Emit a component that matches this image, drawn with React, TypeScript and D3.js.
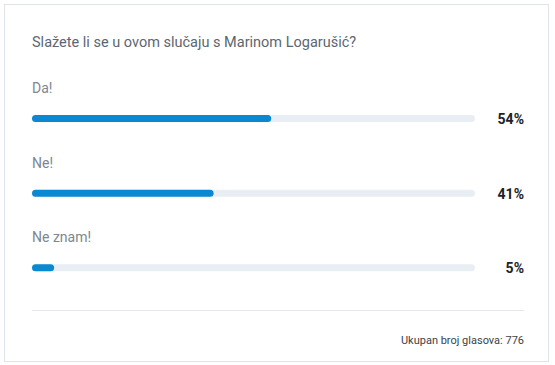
import React from 'react';
import * as d3 from 'd3';

const title = 'Slažete li se u ovom slučaju s Marinom Logarušić?';
const answers = ['Da!', 'Ne!', 'Ne znam!'];
const percents = [54, 41, 5];
const totalVotes = 776;

const W = 555;
const H = 365;

export default function App() {
  const x = d3.scaleLinear().domain([0, 100]).range([32, 475]);
  const y = d3.scaleBand<number>().domain(d3.range(answers.length)).range([72, 296]);
  const font = 'Roboto, "Noto Sans", sans-serif';

  return (
    <svg width={W} height={H} style={{ position: 'absolute', left: 0, top: 0 }} fontFamily={font}>
      <rect x={4.5} y={4.5} width={544} height={357} fill="#fff" stroke="#dfe4ea" />
      <text x={32} y={47} fontSize={14.5} fill="#5c6670">{title}</text>
      {answers.map((a, i) => {
        const y0 = y(i)!;
        return (
          <g key={a}>
            <text x={32} y={y0 + 21} fontSize={14} fill="#7d8790">{a}</text>
            <rect x={x(0)} y={y0 + 43} width={x(100) - x(0)} height={7} rx={3.5} fill="#e9eef4" />
            <rect x={x(0)} y={y0 + 43} width={x(percents[i]) - x(0)} height={7} rx={3.5} fill="#0a89d2" />
            <text x={524} y={y0 + 52} fontSize={14} fontWeight={700} textAnchor="end" fill="#1e2326">
              {percents[i]}%
            </text>
          </g>
        );
      })}
      <line x1={32} x2={524} y1={310.5} y2={310.5} stroke="#e3e8ee" />
      <text x={524} y={344} fontSize={11} textAnchor="end" fill="#3c4248">
        Ukupan broj glasova: {totalVotes}
      </text>
    </svg>
  );
}
